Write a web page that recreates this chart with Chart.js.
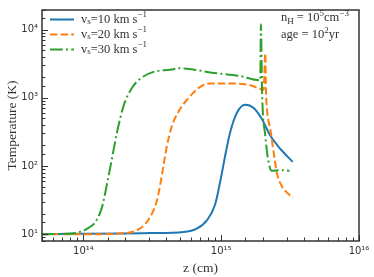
<!DOCTYPE html>
<html>
<head>
<meta charset="utf-8">
<script src="https://cdn.jsdelivr.net/npm/chart.js@4/dist/chart.umd.min.js"></script>
<style>
  body { margin: 0; background: #fff; }
  #wrap { width: 374px; height: 277px; }
</style>
</head>
<body>
<div id="wrap"><canvas id="grafico"></canvas></div>
<script>
// radio z (cm) y temperatura (K) de cada choque
var zV10 = [5e13, 1e14, 2e14, 3.05e14, 5.32e14, 6.65e14, 7.87e14, 9.04e14, 9.84e14, 1.07e15, 1.16e15, 1.30e15, 1.49e15, 1.72e15, 1.98e15, 2.27e15, 2.68e15, 3.30e15];
var tV10 = [10, 10.1, 10.25, 10.4, 10.8, 12.1, 15.9, 27.5, 59.6, 144, 310, 603, 790, 708, 482, 279, 179, 115];

var zV20 = [5e13, 1.2e14, 2.07e14, 2.44e14, 2.81e14, 3.14e14, 3.41e14, 3.61e14, 3.81e14, 4.04e14, 4.39e14, 4.90e14, 5.64e14, 7.03e14, 8.32e14, 1.23e15, 1.63e15, 2.03e15, 2.09e15, 2.11e15, 2.16e15, 2.27e15, 2.40e15, 2.54e15, 2.76e15, 3.00e15, 3.32e15];
var tV20 = [10, 10, 10.4, 11.4, 14.1, 20, 30.9, 53.7, 102, 200, 389, 631, 933, 1445, 1620, 1620, 1530, 1318, 4470, 1400, 603, 347, 160, 77.6, 50, 40.7, 34.3];

var zV30 = [5e13, 7e13, 8.95e13, 1.06e14, 1.22e14, 1.36e14, 1.48e14, 1.61e14, 1.75e14, 1.95e14, 2.24e14, 2.58e14, 3.22e14, 4.51e14, 4.76e14, 9.31e14, 1.37e15, 1.92e15, 1.94e15, 1.98e15, 2.09e15, 2.19e15, 2.33e15, 2.68e15, 3.13e15];
var tV30 = [10, 10.1, 10.5, 12, 15.1, 24.5, 53.7, 129, 309, 750, 1380, 1905, 2400, 2630, 2720, 2290, 2090, 1807, 12020, 1175, 275, 123, 85, 87, 85];

var xMin = 5e13, xMax = 1e16;
var yMin = 7.94, yMax = 19400;

var serie = function(zs, ts) {
    return zs.map(function(z, i) { return {x: z, y: ts[i]}; });
};

var esPotencia = function(v) {
    var l = Math.log10(v);
    return Math.abs(l - Math.round(l)) < 1e-6;
};

var sup = {'0':'⁰','1':'¹','2':'²','3':'³','4':'⁴','5':'⁵','6':'⁶','7':'⁷','8':'⁸','9':'⁹'};
var etiquetaPotencia = function(v) {
    if (!esPotencia(v)) return '';
    var e = String(Math.round(Math.log10(v)));
    return '10' + e.split('').map(function(c) { return sup[c]; }).join('');
};

// texto con subindices y superindices
var textoRico = function(ctx, partes, x, y) {
    partes.forEach(function(p) {
        var tam = p[1] ? 9 : 12.5;
        var dy = p[1] === 'sub' ? 2.5 : (p[1] === 'sup' ? -5 : 0);
        ctx.font = tam + 'px "Liberation Serif"';
        ctx.fillText(p[0], x, y + dy);
        x += ctx.measureText(p[0]).width;
    });
};

var marco = {
    id: 'marco',
    afterDatasetsDraw: function(chart) {
        var ctx = chart.ctx, a = chart.chartArea, sx = chart.scales.x, sy = chart.scales.y;
        ctx.save();
        ctx.strokeStyle = '#333';
        ctx.lineWidth = 1;
        ctx.beginPath();
        sx.ticks.forEach(function(t) {
            var px = Math.round(sx.getPixelForValue(t.value)) + 0.5;
            var len = esPotencia(t.value) ? 6 : 3.5;
            ctx.moveTo(px, a.bottom);
            ctx.lineTo(px, a.bottom - len);
        });
        sy.ticks.forEach(function(t) {
            var py = Math.round(sy.getPixelForValue(t.value)) + 0.5;
            var len = esPotencia(t.value) ? 6 : 3.5;
            ctx.moveTo(a.left, py);
            ctx.lineTo(a.left + len, py);
        });
        ctx.stroke();
        ctx.lineWidth = 1.5;
        ctx.strokeRect(a.left, a.top, a.right - a.left, a.bottom - a.top);

        // leyenda
        var filas = [19.5, 34.5, 49.5];
        chart.data.datasets.forEach(function(ds, i) {
            var y = filas[i];
            ctx.strokeStyle = ds.borderColor;
            ctx.lineWidth = 2;
            ctx.setLineDash(ds.borderDash || []);
            ctx.beginPath();
            ctx.moveTo(50, y);
            ctx.lineTo(74, y);
            ctx.stroke();
            ctx.setLineDash([]);
            ctx.fillStyle = '#333';
            ctx.textBaseline = 'middle';
            textoRico(ctx, [['v'], ['s', 'sub'], ['=' + ds.label + ' km s'], ['−1', 'sup']], 81, y);
        });

        // anotacion
        ctx.fillStyle = '#333';
        ctx.textBaseline = 'alphabetic';
        textoRico(ctx, [['n'], ['H', 'sub'], [' = 10'], ['5', 'sup'], ['cm'], ['−3', 'sup']], 281, 21);
        textoRico(ctx, [['age = 10'], ['2', 'sup'], ['yr']], 281, 38);
        ctx.restore();
    }
};

var ctx = document.getElementById('grafico').getContext('2d');

var data = {
    datasets: [{
        label: '10',
        data: serie(zV10, tV10),
        borderColor: '#1f77b4',
        borderWidth: 2,
        order: 2
    }, {
        label: '20',
        data: serie(zV20, tV20),
        borderColor: '#ff7f0e',
        borderWidth: 2,
        borderDash: [7.4, 3.2],
        order: 1
    }, {
        label: '30',
        data: serie(zV30, tV30),
        borderColor: '#2ca02c',
        borderWidth: 2,
        borderDash: [12.8, 3.2, 2, 3.2],
        order: 0
    }]
};

var options = {
    responsive: true,
    maintainAspectRatio: false,
    animation: false,
    devicePixelRatio: 1,
    layout: { padding: { top: 5, right: 15, left: 0, bottom: 0 } },
    elements: {
        point: { radius: 0 },
        line: { cubicInterpolationMode: 'monotone', borderCapStyle: 'butt' }
    },
    plugins: { legend: { display: false }, tooltip: { enabled: false } },
    scales: {
        x: {
            type: 'logarithmic',
            min: xMin,
            max: xMax,
            grid: { display: false, drawTicks: false },
            border: { display: false },
            ticks: {
                autoSkip: false,
                maxRotation: 0,
                padding: 4,
                color: '#333',
                font: { family: 'DejaVu Sans', size: 10 },
                callback: function(v) { return etiquetaPotencia(v); }
            },
            title: {
                display: true,
                text: 'z (cm)',
                color: '#333',
                font: { family: 'Liberation Serif', size: 13.5 },
                padding: { top: 4, bottom: 0 }
            },
            afterFit: function(s) { s.height = 36; }
        },
        y: {
            type: 'logarithmic',
            min: yMin,
            max: yMax,
            grid: { display: false, drawTicks: false },
            border: { display: false },
            ticks: {
                autoSkip: false,
                padding: 4,
                color: '#333',
                font: { family: 'DejaVu Sans', size: 10 },
                callback: function(v) { return etiquetaPotencia(v); }
            },
            title: {
                display: true,
                text: 'Temperature (K)',
                color: '#333',
                font: { family: 'Liberation Serif', size: 13.5 },
                padding: { top: 4, bottom: 0 }
            },
            afterFit: function(s) { s.width = 42; }
        }
    }
};

var grafico = new Chart(ctx, {
    type: 'line',
    data: data,
    options: options,
    plugins: [marco]
});
</script>
</body>
</html>
